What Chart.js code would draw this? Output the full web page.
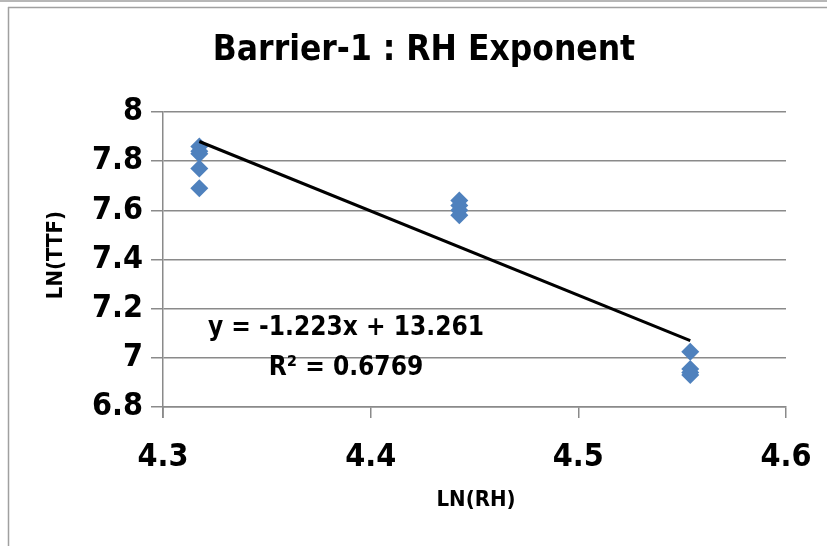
<!DOCTYPE html>
<html>
<head>
<meta charset="utf-8">
<script src="https://cdn.jsdelivr.net/npm/chart.js@4"></script>
<style>
  html, body { margin: 0; padding: 0; background: #fff; }
  #wrap { width: 827px; height: 546px; position: relative; }
</style>
</head>
<body>
<div id="wrap"><canvas id="chart" width="827" height="546"></canvas></div>
<script>
// LN(RH) and LN(TTF)
const lnRH = [4.3175, 4.3175, 4.3175, 4.3175, 4.3175,
              4.4427, 4.4427, 4.4427, 4.4427,
              4.5539, 4.5539, 4.5539, 4.5539];
const lnTTF = [7.86, 7.84, 7.83, 7.77, 7.69,
               7.64, 7.62, 7.60, 7.58,
               7.025, 6.955, 6.94, 6.93];
// trendline as drawn
const trendX = [4.3175, 4.5539];
const trendY = [7.88, 7.07];
const xTicks = [4.3, 4.4, 4.5, 4.6];
const yTicks = [6.8, 7, 7.2, 7.4, 7.6, 7.8, 8];

const titleText = "Barrier-1 : RH Exponent";
const xTitle = "LN(RH)";
const yTitle = "LN(TTF)";
const eqLines = ["y = -1.223x + 13.261", "R² = 0.6769"];

const narrow = '"DejaVu Sans Condensed", "Liberation Sans Narrow", sans-serif';
const gridColor = "#8a8a8a";

const decor = {
  id: "decor",
  beforeDraw(chart) {
    const ctx = chart.ctx;
    ctx.save();
    ctx.strokeStyle = "#a0a0a0";
    ctx.lineWidth = 1.5;
    ctx.beginPath();
    ctx.moveTo(0, 1); ctx.lineTo(827, 1);
    ctx.moveTo(8, 7.5); ctx.lineTo(827, 7.5);
    ctx.moveTo(8.5, 7); ctx.lineTo(8.5, 546);
    ctx.stroke();
    ctx.restore();
  },
  afterDraw(chart) {
    const ctx = chart.ctx;
    const a = chart.chartArea;
    ctx.save();
    // y axis continues down past the x axis
    ctx.strokeStyle = gridColor;
    ctx.lineWidth = 1.5;
    ctx.beginPath();
    ctx.moveTo(a.left, a.bottom);
    ctx.lineTo(a.left, a.bottom + 11);
    ctx.stroke();

    ctx.fillStyle = "#000";
    ctx.textAlign = "center";
    ctx.textBaseline = "middle";
    ctx.font = "bold 35px " + narrow;
    ctx.fillText(titleText, 424, 51);

    ctx.font = "bold 22px " + narrow;
    ctx.fillText(xTitle, 476, 500);

    ctx.save();
    ctx.translate(56, 255);
    ctx.rotate(-Math.PI / 2);
    ctx.fillText(yTitle, 0, 0);
    ctx.restore();

    ctx.font = "bold 26px " + narrow;
    ctx.fillText(eqLines[0], 346, 328);
    ctx.fillText(eqLines[1], 346, 368);
    ctx.restore();
  }
};

new Chart(document.getElementById("chart"), {
  type: "scatter",
  data: {
    datasets: [
      {
        label: "LN(TTF)",
        data: lnRH.map((x, i) => ({ x: x, y: lnTTF[i] })),
        pointStyle: "rectRot",
        pointRadius: 9,
        backgroundColor: "#4f81bd",
        borderColor: "#4f81bd",
        borderWidth: 0,
        order: 2
      },
      {
        label: "Linear",
        type: "line",
        data: trendX.map((x, i) => ({ x: x, y: trendY[i] })),
        borderColor: "#000",
        borderWidth: 3,
        pointRadius: 0,
        fill: false,
        order: 1
      }
    ]
  },
  plugins: [decor],
  options: {
    responsive: false,
    animation: false,
    layout: { padding: { top: 112, right: 41, left: 0, bottom: 0 } },
    plugins: {
      legend: { display: false },
      tooltip: { enabled: false },
      title: { display: false }
    },
    scales: {
      x: {
        type: "linear",
        min: 4.3,
        max: 4.6,
        afterBuildTicks: (s) => { s.ticks = xTicks.map(v => ({ value: v })); },
        afterFit: (s) => { s.height = 139; s.paddingLeft = 0; s.paddingRight = 0; },
        grid: { display: true, drawOnChartArea: false, tickLength: 11, color: gridColor, lineWidth: 1.5 },
        border: { color: gridColor, width: 1.5 },
        ticks: {
          padding: 20,
          color: "#000",
          font: { family: narrow, size: 32, weight: "bold" },
          maxRotation: 0,
          callback: (v) => v.toFixed(1)
        }
      },
      y: {
        min: 6.8,
        max: 8,
        afterBuildTicks: (s) => { s.ticks = yTicks.map(v => ({ value: v })); },
        afterFit: (s) => { s.width = 163; s.paddingTop = 0; s.paddingBottom = 0; },
        grid: { color: gridColor, lineWidth: 1.5, tickLength: 12 },
        border: { color: gridColor, width: 1.5 },
        ticks: {
          padding: 8,
          color: "#000",
          font: { family: narrow, size: 32, weight: "bold" },
          callback: (v) => (Number.isInteger(v) ? String(v) : v.toFixed(1))
        }
      }
    }
  }
});
</script>
</body>
</html>
